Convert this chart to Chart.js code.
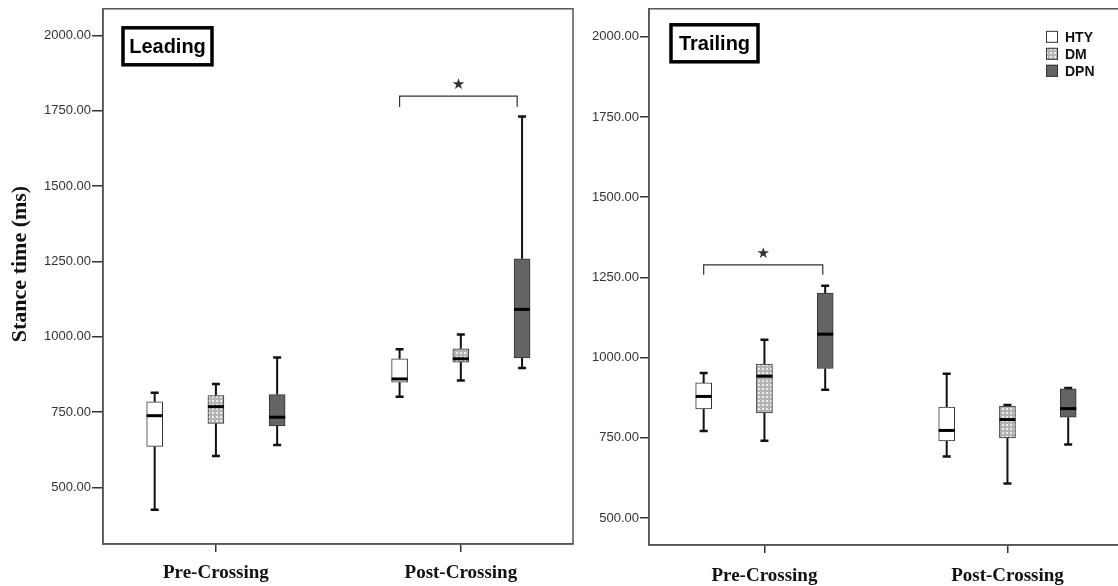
<!DOCTYPE html>
<html>
<head>
<meta charset="utf-8">
<script src="https://cdn.jsdelivr.net/npm/chart.js@4.4.1/dist/chart.umd.min.js"></script>
<style>
  html, body { margin: 0; padding: 0; background: #fff; width: 1118px; height: 586px; overflow: hidden; position: relative; }
  #leadingWrap { position: absolute; left: 0; top: 0; width: 578px; height: 586px; }
  #trailingWrap { position: absolute; left: 578px; top: 0; width: 560px; height: 586px; }
</style>
</head>
<body>
<div id="leadingWrap"><canvas id="leadingChart" width="578" height="586"></canvas></div>
<div id="trailingWrap"><canvas id="trailingChart" width="560" height="586"></canvas></div>
<script>
// Data: [min, q1, median, q3, max] per phase
const categories = ['Pre-Crossing', 'Post-Crossing'];
const groups = ['HTY', 'DM', 'DPN'];
const yTicks = [500, 750, 1000, 1250, 1500, 1750, 2000];

const leadingHTY = [[426, 636, 738, 784, 814], [801, 849, 860, 927, 959]];
const leadingDM  = [[604, 712, 768, 805, 843], [855, 916, 927, 960, 1008]];
const leadingDPN = [[641, 704, 733, 808, 931], [896, 930, 1091, 1259, 1731]];

const trailingHTY = [[771, 840, 879, 921, 952], [692, 740, 773, 846, 950]];
const trailingDM  = [[741, 828, 942, 980, 1056], [608, 750, 807, 849, 852]];
const trailingDPN = [[900, 966, 1073, 1201, 1224], [729, 814, 841, 903, 905]];

// significance brackets: [category, top value, bottom of the drop]
const leadingSig = [2, 1799, 1763];
const trailingSig = [1, 1289, 1258];

const groupOffsets = [-0.25, 0, 0.25];

// dotted fill for DM boxes
function dotPattern() {
  const c = document.createElement('canvas');
  c.width = 4; c.height = 4;
  const g = c.getContext('2d');
  g.fillStyle = '#b4b4b4';
  g.fillRect(0, 0, 4, 4);
  g.fillStyle = '#ebebeb';
  g.fillRect(0, 0, 2, 2);
  return g.createPattern(c, 'repeat');
}
const fills = ['#ffffff', dotPattern(), '#646464'];

// whiskers and medians
const boxPlot = {
  id: 'boxPlot',
  beforeDatasetsDraw(chart) {
    const ctx = chart.ctx, y = chart.scales.y;
    ctx.save();
    ctx.strokeStyle = '#111';
    chart.data.datasets.forEach((ds, di) => {
      const meta = chart.getDatasetMeta(di);
      ds.stats.forEach((s, i) => {
        const cx = meta.data[i].x;
        ctx.lineWidth = 2;
        ctx.beginPath();
        ctx.moveTo(cx, y.getPixelForValue(s[3])); ctx.lineTo(cx, y.getPixelForValue(s[4]));
        ctx.moveTo(cx, y.getPixelForValue(s[1])); ctx.lineTo(cx, y.getPixelForValue(s[0]));
        ctx.stroke();
        ctx.lineWidth = 2.5;
        ctx.beginPath();
        [s[0], s[4]].forEach(v => {
          const py = y.getPixelForValue(v);
          ctx.moveTo(cx - 4, py); ctx.lineTo(cx + 4, py);
        });
        ctx.stroke();
      });
    });
    ctx.restore();
  },
  afterDatasetsDraw(chart) {
    const ctx = chart.ctx, y = chart.scales.y;
    ctx.save();
    ctx.strokeStyle = '#000';
    ctx.lineWidth = 3;
    chart.data.datasets.forEach((ds, di) => {
      const meta = chart.getDatasetMeta(di);
      ds.stats.forEach((s, i) => {
        const bar = meta.data[i];
        const py = y.getPixelForValue(s[2]);
        ctx.beginPath();
        ctx.moveTo(bar.x - bar.width / 2, py);
        ctx.lineTo(bar.x + bar.width / 2, py);
        ctx.stroke();
      });
    });
    ctx.restore();
  }
};

// frame, panel label, bracket, legend, axis title
const decorations = {
  id: 'decorations',
  beforeDatasetsDraw(chart) {
    const { ctx, chartArea: a } = chart;
    ctx.save();
    ctx.strokeStyle = '#555';
    ctx.lineWidth = 1.5;
    ctx.strokeRect(a.left, a.top, a.right - a.left, a.bottom - a.top);
    ctx.restore();
  },
  afterDraw(chart, args, opts) {
    const { ctx, chartArea: a, scales: { x, y } } = chart;
    ctx.save();
    // panel label
    const lb = opts.label;
    ctx.strokeStyle = '#000';
    ctx.lineWidth = 3.5;
    ctx.strokeRect(a.left + lb.dx, a.top + lb.dy, lb.w, lb.h);
    ctx.fillStyle = '#000';
    ctx.font = 'bold 20px "Liberation Sans", Arial, sans-serif';
    ctx.textAlign = 'center';
    ctx.textBaseline = 'middle';
    ctx.fillText(lb.text, a.left + lb.dx + lb.w / 2, a.top + lb.dy + lb.h / 2 + 1);

    // significance bracket
    const sig = opts.sig;
    const x1 = x.getPixelForValue(sig[0] + opts.sigFrom);
    const x2 = x.getPixelForValue(sig[0] + opts.sigTo);
    const yTop = y.getPixelForValue(sig[1]);
    const yDrop = y.getPixelForValue(sig[2]);
    ctx.strokeStyle = '#333';
    ctx.lineWidth = 1.2;
    ctx.beginPath();
    ctx.moveTo(x1, yDrop); ctx.lineTo(x1, yTop); ctx.lineTo(x2, yTop); ctx.lineTo(x2, yDrop);
    ctx.stroke();
    ctx.fillStyle = '#333';
    ctx.font = '15px "DejaVu Sans", sans-serif';
    ctx.fillText('\u2605', (x1 + x2) / 2, yTop - 11);

    // legend
    if (opts.legend) {
      chart.data.datasets.forEach((ds, i) => {
        const sx = a.left + opts.legend.dx, sy = a.top + opts.legend.dy + i * 17;
        ctx.fillStyle = ds.backgroundColor;
        ctx.fillRect(sx, sy - 6, 12, 12);
        ctx.strokeStyle = '#333';
        ctx.lineWidth = 1;
        ctx.strokeRect(sx + 0.5, sy - 5.5, 11, 11);
        ctx.fillStyle = '#111';
        ctx.font = 'bold 14px "Liberation Sans", Arial, sans-serif';
        ctx.textAlign = 'left';
        ctx.fillText(ds.label, sx + 19, sy + 1);
      });
    }

    // y-axis title
    if (opts.yTitle) {
      ctx.translate(20, 264);
      ctx.rotate(-Math.PI / 2);
      ctx.fillStyle = '#111';
      ctx.font = 'bold 22px "Liberation Serif", "Times New Roman", serif';
      ctx.textAlign = 'center';
      ctx.textBaseline = 'middle';
      ctx.fillText(opts.yTitle, 0, 0);
    }
    ctx.restore();
  }
};

function makeChart(canvasId, statsByGroup, cfg) {
  const datasets = groups.map((g, gi) => ({
    label: g,
    stats: statsByGroup[gi],
    data: statsByGroup[gi].map((s, ci) => ({ x: ci + 1 + groupOffsets[gi], y: [s[1], s[3]] })),
    backgroundColor: fills[gi],
    borderColor: '#333',
    borderWidth: 1,
    borderSkipped: false,
    barThickness: 16,
    grouped: false
  }));

  return new Chart(document.getElementById(canvasId), {
    type: 'bar',
    data: { datasets },
    options: {
      responsive: false,
      animation: false,
      devicePixelRatio: 1,
      layout: { padding: { left: 0, top: cfg.top, right: cfg.right, bottom: 0 } },
      plugins: {
        legend: { display: false },
        tooltip: { enabled: false },
        decorations: cfg.deco
      },
      scales: {
        x: {
          type: 'linear',
          min: cfg.xMin,
          max: cfg.xMax,
          offset: false,
          grid: { display: true, offset: false, drawOnChartArea: false, drawTicks: true, tickLength: 8, color: '#333', lineWidth: 1.5 },
          border: { display: true, color: '#555', width: 1.5 },
          afterBuildTicks: axis => { axis.ticks = categories.map((c, i) => ({ value: i + 1 })); },
          afterFit: axis => { axis.height = cfg.xHeight; },
          ticks: {
            autoSkip: false,
            maxRotation: 0,
            padding: cfg.xPad,
            color: '#111',
            font: { family: '"Liberation Serif", "Times New Roman", serif', size: 19, weight: 'bold' },
            callback: v => categories[v - 1]
          }
        },
        y: {
          min: cfg.yMin,
          max: cfg.yMax,
          beginAtZero: false,
          grid: { display: true, drawOnChartArea: false, drawTicks: true, tickLength: cfg.tickLen, color: '#333', lineWidth: 1.5 },
          border: { display: true, color: '#555', width: 1.5 },
          afterBuildTicks: axis => { axis.ticks = yTicks.map(v => ({ value: v })); },
          afterFit: axis => { axis.width = cfg.yWidth; },
          ticks: {
            padding: 1,
            color: '#333',
            font: { family: '"Liberation Sans", Arial, sans-serif', size: 13 },
            callback: v => Number(v).toFixed(2)
          }
        }
      }
    },
    plugins: [boxPlot, decorations]
  });
}

makeChart('leadingChart', [leadingHTY, leadingDM, leadingDPN], {
  top: 5, right: 5, yWidth: 103, xHeight: 42, xPad: 10, tickLen: 11,
  xMin: 0.539, xMax: 2.458, yMin: 312, yMax: 2089,
  deco: {
    label: { text: 'Leading', dx: 20, dy: 19, w: 89, h: 37 },
    sig: leadingSig, sigFrom: -0.25, sigTo: 0.23,
    yTitle: 'Stance time (ms)'
  }
});

makeChart('trailingChart', [trailingHTY, trailingDM, trailingDPN], {
  top: 6, right: 10, yWidth: 71, xHeight: 41, xPad: 12, tickLen: 9,
  xMin: 0.525, xMax: 2.496, yMin: 416, yMax: 2087,
  deco: {
    label: { text: 'Trailing', dx: 22, dy: 16, w: 87, h: 37 },
    sig: trailingSig, sigFrom: -0.25, sigTo: 0.24,
    legend: { dx: 397, dy: 28 }
  }
});
</script>
</body>
</html>
